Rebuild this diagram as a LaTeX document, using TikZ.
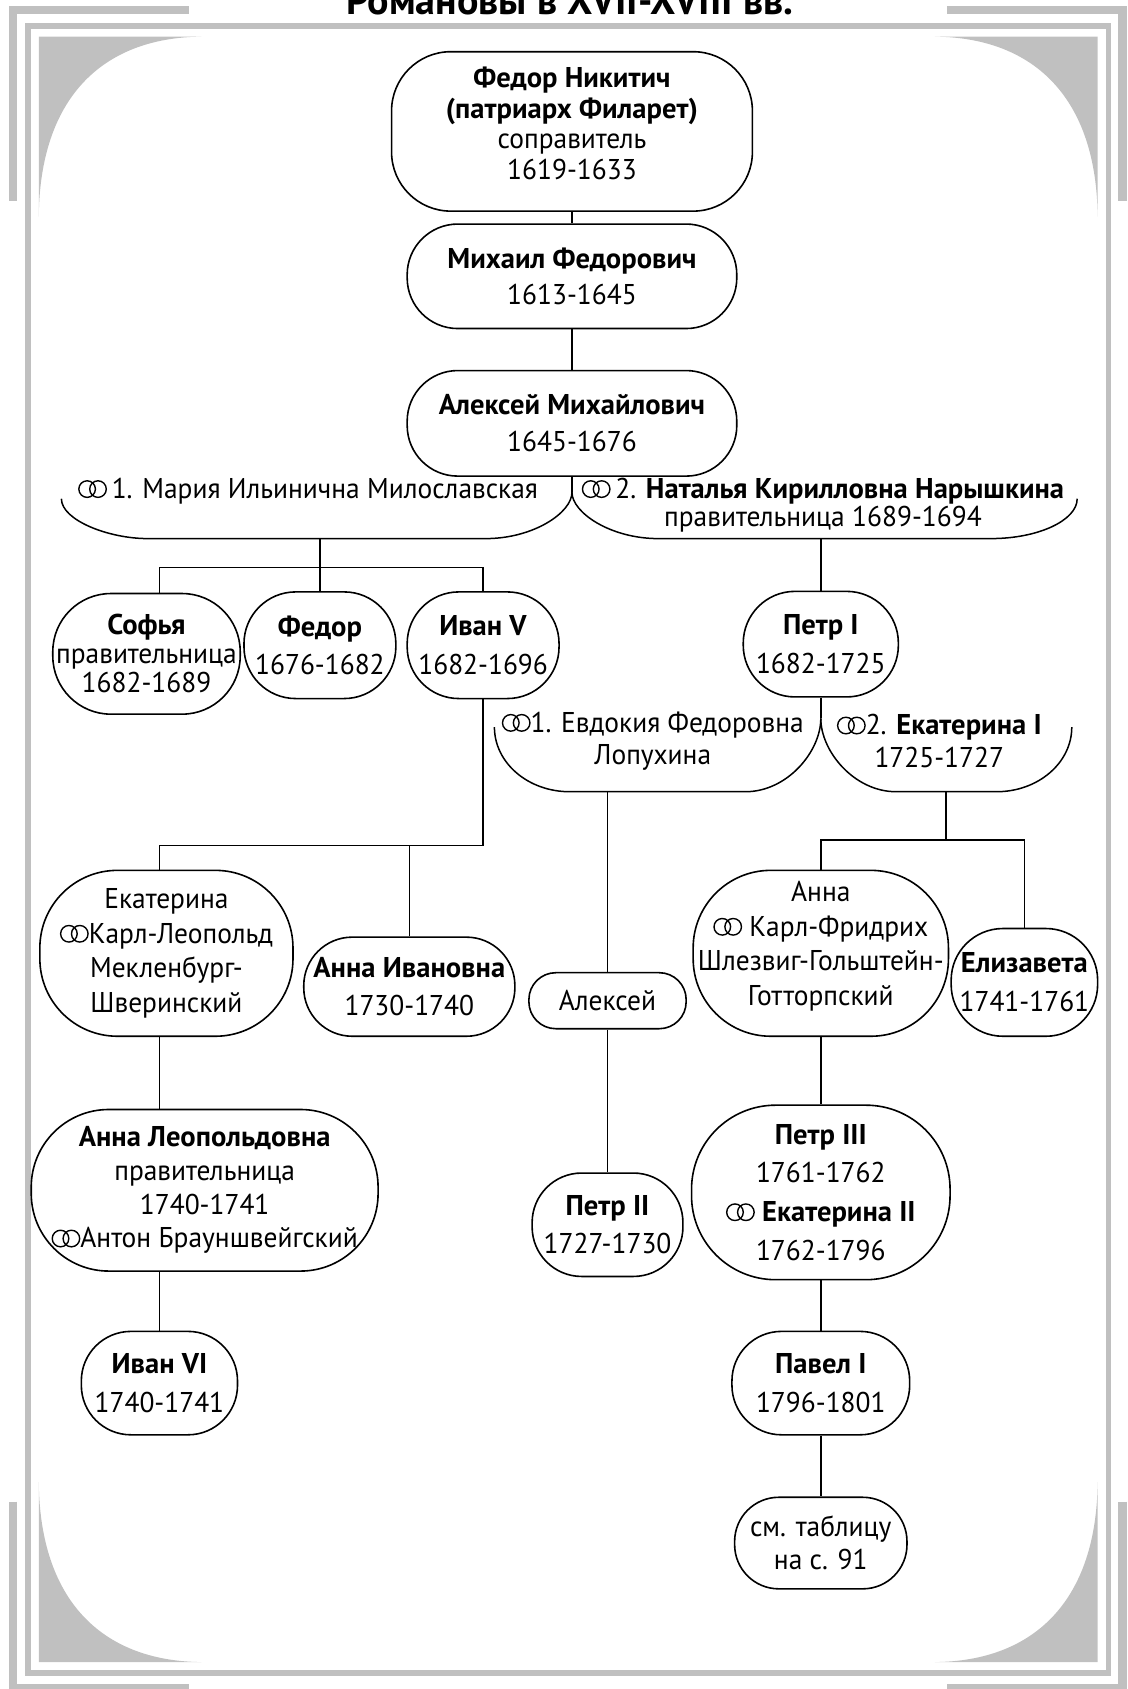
\documentclass[tikz,border=0pt]{standalone}
\usepackage{fontspec}
\setmainfont{PT Sans}[UprightFeatures={FakeStretch=0.96}]
\definecolor{frameg}{RGB}{192,192,192}
\newcommand\mar{\tikz[baseline=0pt]{\draw[line width=1.4pt,black] (0.31em,0.33em) circle[radius=0.29em]; \draw[line width=1.4pt,black] (0.69em,0.33em) circle[radius=0.29em];}}
\begin{document}
\begin{tikzpicture}[x=1.0774pt,y=-1.0774pt,line width=1.5pt,
  every node/.style={font=\fontsize{28.6}{38.5}\selectfont},
  ls/.style={font=\fontsize{28.6}{#1}\selectfont},
  bx/.style n args={3}{draw,line width=1.6pt,rounded corners=#3*1.0774pt,minimum width=#1*1.0774pt,minimum height=#2*1.0774pt,inner sep=0pt,align=center},
  lbl/.style={align=center,inner sep=0pt},
  band/.style={frameg,line width=8.5pt},
  mid/.style={frameg,line width=5.5pt}]
\useasboundingbox (0,0) rectangle (1047,1568);
\clip (0,0) rectangle (1047,1568);
% ---- frame ----
\draw[band] (175,9.3) -- (12,9.3) -- (12,187);
\draw[band] (879,9.3) -- (1042,9.3) -- (1042,187);
\draw[band] (12,1394) -- (12,1567.5) -- (175,1567.5);
\draw[band] (1042,1394) -- (1042,1567.5) -- (879,1567.5);
\draw[mid] (26,24) rectangle (1029,1553);
\fill[frameg] (36,34) -- (187,34) .. controls (93,35) and (37,93) .. (36,201) -- cycle;
\fill[frameg] (1019,34) -- (868,34) .. controls (962,35) and (1018,93) .. (1019,201) -- cycle;
\fill[frameg] (36,1543) -- (187,1543) .. controls (93,1542) and (37,1484) .. (36,1376) -- cycle;
\fill[frameg] (1019,1543) -- (868,1543) .. controls (962,1542) and (1018,1484) .. (1019,1376) -- cycle;
% ---- title (cut off at top) ----
\node[anchor=base,font=\bfseries\fontsize{40}{44}\selectfont] (title) at (529,13) {Романовы в XVII-XVIII вв.};
% ---- nodes ----
\node[bx={335}{148}{55},ls=30.5pt,text depth=16pt] (F) at (531,122) {\textbf{Федор Никитич}\\\textbf{(патриарх Филарет)}\\соправитель\\1619-1633};
\node[bx={306}{97}{47},ls=35.5pt] (M) at (531,256.5) {\textbf{Михаил Федорович}\\1613-1645};
\node[bx={306}{98}{47},ls=36.6pt] (A) at (531,393) {\textbf{Алексей Михайлович}\\1645-1676};
\coordinate (c1) at (531,457);
\node[lbl] (t1L) at (286,456) {\mar\,1. Мария Ильинична Милославская};
\node[lbl,ls=28pt] (t1R) at (764,469) {\mar\,2. \textbf{Наталья Кирилловна Нарышкина}\\правительница 1689-1694};
\coordinate (b1L) at (297,500);
\coordinate (j1) at (297,527);
\coordinate (xL) at (148,0);
\coordinate (b1R) at (762,500);
\node[bx={174}{112}{54},ls=29pt] (sofia) at (136,607) {\textbf{Софья}\\правительница\\1682-1689};
\node[bx={141}{99}{48}] (fedor) at (297,599) {\textbf{Федор}\\1676-1682};
\node[bx={141}{99}{48}] (ivan5) at (448.5,599) {\textbf{Иван V}\\1682-1696};
\node[bx={144}{98}{48}] (p1) at (762,598) {\textbf{Петр I}\\1682-1725};
\coordinate (c2) at (762,667);
\node[lbl,ls=32.3pt] (t2L) at (606,688) {\mar1. Евдокия Федоровна\\Лопухина};
\node[lbl,ls=32.3pt] (t2R) at (872,688) {\mar2. \textbf{Екатерина I}\\1725-1727};
\coordinate (b2L) at (564,735);
\coordinate (b2R) at (878,735);
\coordinate (j2) at (878,780);
\coordinate (j3) at (449,785);
\node[bx={235}{154}{72},ls=34.5pt] (ekat) at (154.5,885) {Екатерина\\\mar Карл-Леопольд\\Мекленбург-\\Шверинский};
\node[bx={196}{92}{45}] (annaI) at (380,916) {\textbf{Анна Ивановна}\\1730-1740};
\node[bx={146}{52}{25}] (alexei) at (564,929) {Алексей};
\node[bx={237}{154}{72},ls=34.5pt,text depth=20pt] (annaR) at (762,885) {Анна\\\mar\ Карл-Фридрих\\Шлезвиг-Гольштейн-\\Готторпский};
\node[bx={136}{100}{48}] (eliz) at (951,912) {\textbf{Елизавета}\\1741-1761};
\node[bx={322}{150}{72},ls=33.7pt] (annaL) at (190,1105) {\textbf{Анна Леопольдовна}\\правительница\\1740-1741\\\mar Антон Брауншвейгский};
\node[bx={145}{96}{46}] (ivan6) at (148,1284) {\textbf{Иван VI}\\1740-1741};
\node[bx={140}{96}{46}] (p2) at (564,1137) {\textbf{Петр II}\\1727-1730};
\node[bx={240}{162}{78},ls=38.8pt] (p3) at (762,1107) {\textbf{Петр III}\\1761-1762\\\mar\ \textbf{Екатерина II}\\1762-1796};
\node[bx={165}{96}{46}] (pavel) at (762,1284) {\textbf{Павел I}\\1796-1801};
\node[bx={160}{85}{41},ls=33pt] (sm) at (762,1432.5) {см. таблицу\\на с. 91};
% ---- marriage braces ----
\draw (57,463) .. controls (57,483) and (101,500) .. (137,500) -- (451,500) .. controls (495,500) and (531,476) .. (c1);
\draw (c1) .. controls (531,476) and (567,500) .. (611,500) -- (920,500) .. controls (964,500) and (1000,483) .. (1000,463);
\draw (459,675) .. controls (459,708) and (490,735) .. (529,735) -- (692,735) .. controls (731,735) and (762,697.5) .. (c2);
\draw (c2) .. controls (762,697.5) and (793,735) .. (832,735) -- (925,735) .. controls (964,735) and (995,708) .. (995,675);
% ---- connectors ----
\draw (F.south) -- (M.north);
\draw (M.south) -- (A.north);
\draw (A.south) -- (c1);
\draw (b1L) -- (j1);
\draw (sofia.north -| xL) |- (ivan5.north |- j1) -- (ivan5.north);
\draw (fedor.north) -- (fedor.north |- j1);
\draw (b1R) -- (p1.north);
\draw (p1.south) -- (c2);
\draw (ivan5.south) -- (ivan5.south |- j3) -| (ekat.north -| xL);
\draw (annaI.north) -- (annaI.north |- j3);
\draw (b2L) -- (alexei.north);
\draw (b2R) -- (j2);
\draw (annaR.north) |- (eliz.north |- j2) -- (eliz.north);
\draw (ekat.south -| xL) -- (annaL.north -| xL);
\draw (annaL.south -| xL) -- (ivan6.north);
\draw (alexei.south) -- (p2.north);
\draw (annaR.south) -- (p3.north);
\draw (p3.south) -- (pavel.north);
\draw (pavel.south) -- (sm.north);
\end{tikzpicture}
\end{document}
